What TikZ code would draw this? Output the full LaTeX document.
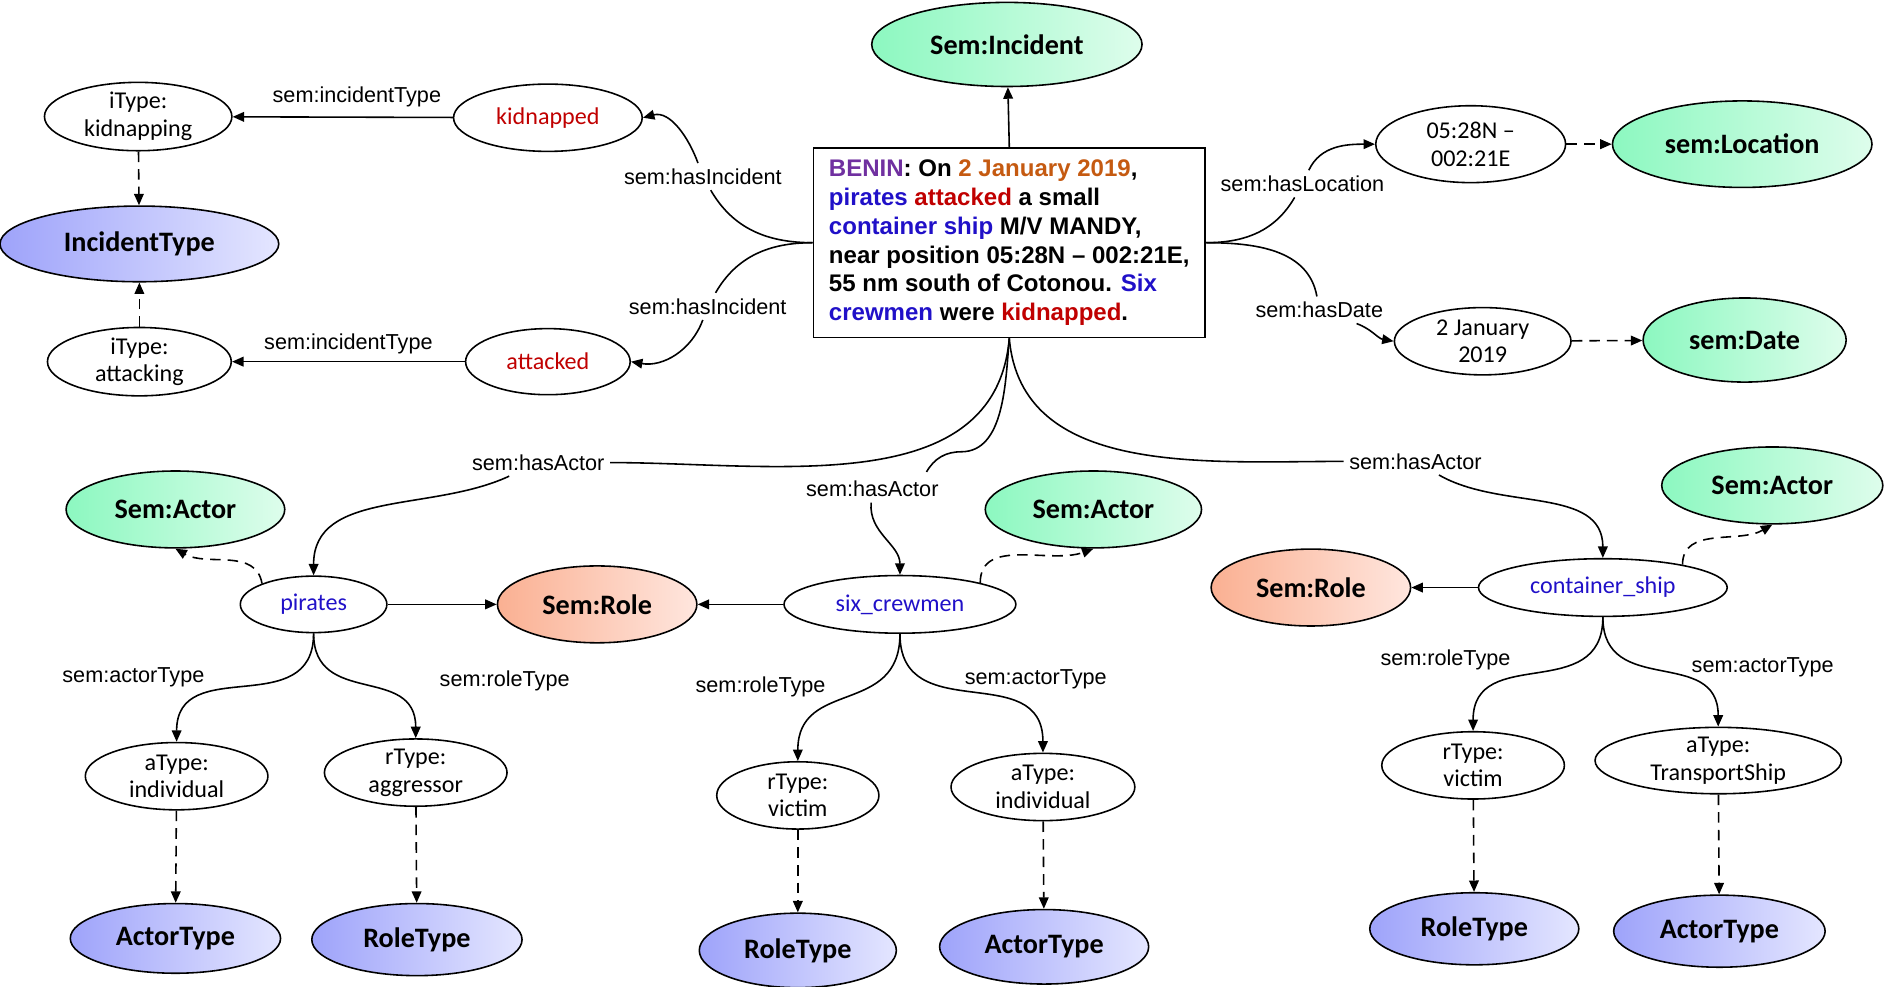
\documentclass[tikz,border=0pt]{standalone}
\usepackage{fontspec}
\setmainfont{Liberation Sans}
\newfontfamily\calibri{Carlito}
\usepackage{tikz}
\usetikzlibrary{shapes.geometric, positioning, arrows.meta}
\definecolor{ClsGreenL}{RGB}{140,248,192}
\definecolor{ClsGreenR}{RGB}{222,253,236}
\definecolor{ClsBlueL}{RGB}{158,163,250}
\definecolor{ClsBlueR}{RGB}{228,230,255}
\definecolor{ClsRoleL}{RGB}{250,176,146}
\definecolor{ClsRoleR}{RGB}{255,230,222}
\definecolor{TxtPurple}{RGB}{112,48,160}
\definecolor{TxtOrange}{RGB}{197,90,17}
\definecolor{TxtBlue}{RGB}{32,16,200}
\definecolor{TxtRed}{RGB}{192,0,0}

\begin{document}
\begin{tikzpicture}[
          x=0.024cm, y=-0.024cm,
          inst/.style 2 args={ellipse, draw, line width=0.9pt, inner sep=0pt,
                      align=center, font=\calibri\fontsize{13.7}{15.7}\selectfont,
                      minimum width=#1*0.024cm, minimum height=#2*0.024cm},
          cls/.style 2 args={inst={#1}{#2},
                      font=\calibri\bfseries\fontsize{16}{18}\selectfont},
          greencls/.style 2 args={cls={#1}{#2}, left color=ClsGreenL, right color=ClsGreenR},
          bluecls/.style 2 args={cls={#1}{#2}, left color=ClsBlueL, right color=ClsBlueR},
          rolecls/.style 2 args={cls={#1}{#2}, left color=ClsRoleL, right color=ClsRoleR},
          lbl/.style={font=\fontsize{12.3}{14}\selectfont, fill=white, inner sep=3pt},
          line/.style={line width=0.9pt},
          link/.style={line, -{Triangle[length=6.5pt, width=5.5pt]}},
          dlink/.style={link, dash pattern=on 6pt off 4pt}
        ]
        \useasboundingbox (0,0) rectangle (1568,821);

        % Report text
        \node[draw, line width=0.9pt, align=left, inner sep=0pt,
              font=\bfseries\fontsize{13.66}{16.4}\selectfont,
              minimum width=326*0.024cm, minimum height=158*0.024cm] (report) at (840,202)
              {{\color{TxtPurple}BENIN}: On {\color{TxtOrange}2 January 2019},\\
               {\color{TxtBlue}pirates} {\color{TxtRed}attacked} a small\\
               {\color{TxtBlue}container ship} M/V MANDY,\\
               near position 05:28N – 002:21E,\\
               55 nm south of Cotonou. {\color{TxtBlue}Six}\\
               {\color{TxtBlue}crewmen} were {\color{TxtRed}kidnapped}.};
        \node[greencls={225}{70}] (semInc) at (838,37) {Sem:Incident};
        \draw[link] (report.north) -- (semInc);

        % Incidents
        \node[inst={156}{56}] (itKid) at (115,97) {iType:\\kidnapping};
        \node[inst={157}{56}, text=TxtRed] (kid) at (456,98) {kidnapped};
        \node[bluecls={232}{63}] (incType) at (116,203) {IncidentType};
        \node[inst={153}{54}] (itAtt) at (116,301) {iType:\\attacking};
        \node[inst={137}{55}, text=TxtRed] (att) at (456,301) {attacked};
        \node[lbl] (lIT1) at (297,81) {sem:incidentType};
        \node[lbl] (lIT2) at (290,286) {sem:incidentType};
        \node[lbl] (lHI1) at (585,147) {sem:hasIncident};
        \node[lbl] (lHI2) at (589,255) {sem:hasIncident};
        \draw[link] (kid) -- (itKid);
        \draw[link] (att) -- (itAtt);
        \draw[dlink] (itKid) -- (incType);
        \draw[dlink] (itAtt) -- (incType);
        \draw[link] (report.west) to[out=180, in=-60] (lHI1) to[out=110, in=15] (kid.east);
        \draw[link] (report.west) to[out=180, in=60] (lHI2) to[out=-110, in=-10] (att.east);

        % Location and date
        \node[inst={158}{64}] (pos) at (1224,120) {05:28N –\\002:21E};
        \node[greencls={216}{72}] (semLoc) at (1450,120) {sem:Location};
        \node[inst={147}{56}] (date) at (1234,284) {2 January\\2019};
        \node[greencls={169}{70}] (semDate) at (1452,283) {sem:Date};
        \node[lbl] (lLoc) at (1084,153) {sem:hasLocation};
        \node[lbl] (lDate) at (1098,258) {sem:hasDate};
        \draw[link] (report.east) to[out=0, in=-120] (lLoc) to[out=65, in=180] (pos.west);
        \draw[link] (report.east) to[out=0, in=100] (lDate) to[out=-20, in=170] (date.west);
        \draw[dlink] (pos) -- (semLoc);
        \draw[dlink] (date) -- (semDate);

        % Actor: pirates
        \node[lbl] (lAct1) at (448,385) {sem:hasActor};
        \node[greencls={182}{64}] (actorL) at (146,424) {Sem:Actor};
        \node[inst={122}{47}, text=TxtBlue] (pirates) at (261,503) {pirates};
        \node[rolecls={166}{64}] (roleL) at (497,503) {Sem:Role};
        \node[lbl] (lAT1) at (111,564) {sem:actorType};
        \node[lbl] (lRT1) at (420,567) {sem:roleType};
        \node[inst={152}{56}] (atInd1) at (147,646) {aType:\\individual};
        \node[inst={152}{56}] (rtAgg) at (346,643) {rType:\\aggressor};
        \node[bluecls={175}{58}] (actT1) at (146,781) {ActorType};
        \node[bluecls={175}{60}] (roleT1) at (347,782) {RoleType};
        \draw[link] (report.south) to[out=-95, in=0] (lAct1) to[out=-155, in=90] (pirates.north);
        \draw[link] (pirates) -- (roleL);
        \draw[dlink] (pirates.158) to[out=100, in=-30] (actorL.south);
        \draw[link] (pirates.south) to[out=-90, in=90, looseness=1.3] (atInd1.north);
        \draw[link] (pirates.south) to[out=-90, in=90, looseness=1.3] (rtAgg.north);
        \draw[dlink] (atInd1) -- (actT1);
        \draw[dlink] (rtAgg) -- (roleT1);

        % Actor: six_crewmen
        \node[lbl] (lAct2) at (726,407) {sem:hasActor};
        \node[inst={193}{48}, text=TxtBlue] (crew) at (749,503) {six\_crewmen};
        \node[greencls={180}{64}] (actorM) at (910,424) {Sem:Actor};
        \node[lbl] (lRT2) at (633,572) {sem:roleType};
        \node[lbl] (lAT2) at (862,565) {sem:actorType};
        \node[inst={135}{56}] (rtVic1) at (664,662) {rType:\\victim};
        \node[inst={153}{56}] (atInd2) at (868,655) {aType:\\individual};
        \node[bluecls={164}{62}] (roleT2) at (664,791) {RoleType};
        \node[bluecls={174}{62}] (actT2) at (869,788) {ActorType};
        \coordinate (hook) at (800,376);
        \draw[line] (report.south) to[out=-95, in=0, looseness=0.9] (hook)
              to[out=180, in=60] ([xshift=-10pt, yshift=2pt]lAct2.north east);
        \draw[link] (lAct2) to[out=-95, in=90] (crew.north);
        \draw[link] (crew) -- (roleL);
        \draw[dlink] (crew.15) to[out=90, in=200] (actorM.south);
        \draw[link] (crew.south) to[out=-90, in=90, looseness=1.3] (rtVic1.north);
        \draw[link] (crew.south) to[out=-90, in=90, looseness=1.3] (atInd2.north);
        \draw[dlink] (rtVic1) -- (roleT2);
        \draw[dlink] (atInd2) -- (actT2);

        % Actor: container_ship
        \node[lbl] (lAct3) at (1178,384) {sem:hasActor};
        \node[greencls={184}{64}] (actorR) at (1475,404) {Sem:Actor};
        \node[rolecls={166}{64}] (roleR) at (1091,489) {Sem:Role};
        \node[inst={207}{48}, text=TxtBlue] (ship) at (1334,489) {container\_ship};
        \node[lbl] (lRT3) at (1203,549) {sem:roleType};
        \node[lbl] (lAT3) at (1467,555) {sem:actorType};
        \node[inst={152}{56}] (rtVic2) at (1226,637) {rType:\\victim};
        \node[inst={205}{52}] (atShip) at (1430,633) {aType:\\TransportShip};
        \node[bluecls={174}{60}] (roleT3) at (1227,773) {RoleType};
        \node[bluecls={176}{60}] (actT3) at (1431,775) {ActorType};
        \draw[link] (report.south) to[out=-85, in=180] (lAct3) to[out=-30, in=90] (ship.north);
        \draw[link] (ship) -- (roleR);
        \draw[dlink] (ship.16) to[out=90, in=210] (actorR.south);
        \draw[link] (ship.south) to[out=-90, in=90, looseness=1.3] (rtVic2.north);
        \draw[link] (ship.south) to[out=-90, in=90, looseness=1.3] (atShip.north);
        \draw[dlink] (rtVic2) -- (roleT3);
        \draw[dlink] (atShip) -- (actT3);
      \end{tikzpicture}
\end{document}
